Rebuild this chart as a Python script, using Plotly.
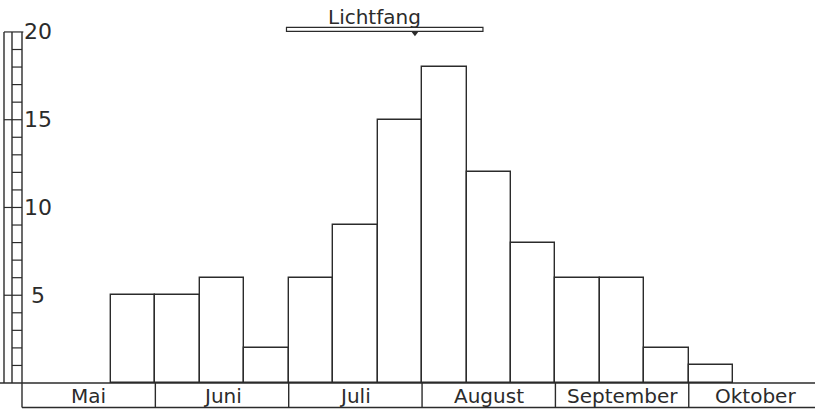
import plotly.graph_objects as go

# Light-trap catches per ten-day period (three periods per month)
months = ["Mai", "Juni", "Juli", "August", "September", "Oktober"]
counts = [0, 0, 5, 5, 6, 2, 6, 9, 15, 18, 12, 8, 6, 6, 2, 1, 0, 0]
y_tick_labels = [5, 10, 15, 20]
title_text = "Lichtfang"
# period of light trapping, in ten-day slots from the start of May
lichtfang_start, lichtfang_end = 5.95, 10.37
lichtfang_marker = 8.84

INK = "#2b2b2b"
LW = 1.4
FONT = "DejaVu Sans"

X_RANGE = [-0.495, 17.84]
Y_RANGE = [-1.652, 21.82]
BOX_BOTTOM = -1.396          # lower edge of the month label boxes
SCALE_OUTER, SCALE_INNER = -0.405, -0.225   # left scale column edges
SCALE_TOP = 20

fig = go.Figure()

nonzero = [(i, c) for i, c in enumerate(counts) if c > 0]
fig.add_trace(go.Bar(
    x=[i + 0.5 for i, _ in nonzero],
    y=[c for _, c in nonzero],
    width=1,
    marker=dict(color="white", line=dict(color=INK, width=LW)),
    hoverinfo="skip",
    showlegend=False,
))

shapes = []


def line(x0, y0, x1, y1, w=LW):
    shapes.append(dict(type="line", xref="x", yref="y", x0=x0, y0=y0, x1=x1, y1=y1,
                       line=dict(color=INK, width=w), layer="above"))


# baseline
line(X_RANGE[0], 0, X_RANGE[1], 0)

# vertical count scale on the left
line(SCALE_OUTER, 0, SCALE_OUTER, SCALE_TOP)
line(SCALE_INNER, 0, SCALE_INNER, SCALE_TOP)
line(0, 0, 0, SCALE_TOP)
for v in range(1, SCALE_TOP + 1):
    left = SCALE_OUTER if v % 5 == 0 else SCALE_INNER
    line(left, v, 0.03 if v == SCALE_TOP else 0, v, w=1.2)

# month label boxes below the baseline
line(0, BOX_BOTTOM, X_RANGE[1], BOX_BOTTOM)
for m in range(len(months)):
    line(3 * m, 0, 3 * m, BOX_BOTTOM)

# light-trapping period bar
shapes.append(dict(type="rect", xref="x", yref="y",
                   x0=lichtfang_start, x1=lichtfang_end, y0=20.03, y1=20.26,
                   fillcolor="white", line=dict(color=INK, width=1.2), layer="above"))

fig.add_trace(go.Scatter(
    x=[lichtfang_marker], y=[19.93], mode="markers",
    marker=dict(symbol="triangle-down", size=6, color=INK),
    hoverinfo="skip", showlegend=False,
))

annotations = []
for m, name in enumerate(months):
    annotations.append(dict(x=3 * m + 1.5, y=-0.72, xref="x", yref="y", text=name,
                            showarrow=False, xanchor="center", yanchor="middle",
                            font=dict(family=FONT, size=20, color=INK)))
for v in y_tick_labels:
    annotations.append(dict(x=0.371, y=v, xref="x", yref="y", text=str(v),
                            showarrow=False, xanchor="center", yanchor="middle",
                            font=dict(family=FONT, size=22, color=INK)))
annotations.append(dict(x=7.94, y=20.85, xref="x", yref="y", text=title_text,
                        showarrow=False, xanchor="center", yanchor="middle",
                        font=dict(family=FONT, size=20, color=INK)))

fig.update_layout(
    width=815, height=412,
    margin=dict(l=0, r=0, t=0, b=0),
    paper_bgcolor="white", plot_bgcolor="white",
    xaxis=dict(range=X_RANGE, visible=False, fixedrange=True),
    yaxis=dict(range=Y_RANGE, visible=False, fixedrange=True),
    shapes=shapes,
    annotations=annotations,
    bargap=0,
)

fig.write_html("out.html")
